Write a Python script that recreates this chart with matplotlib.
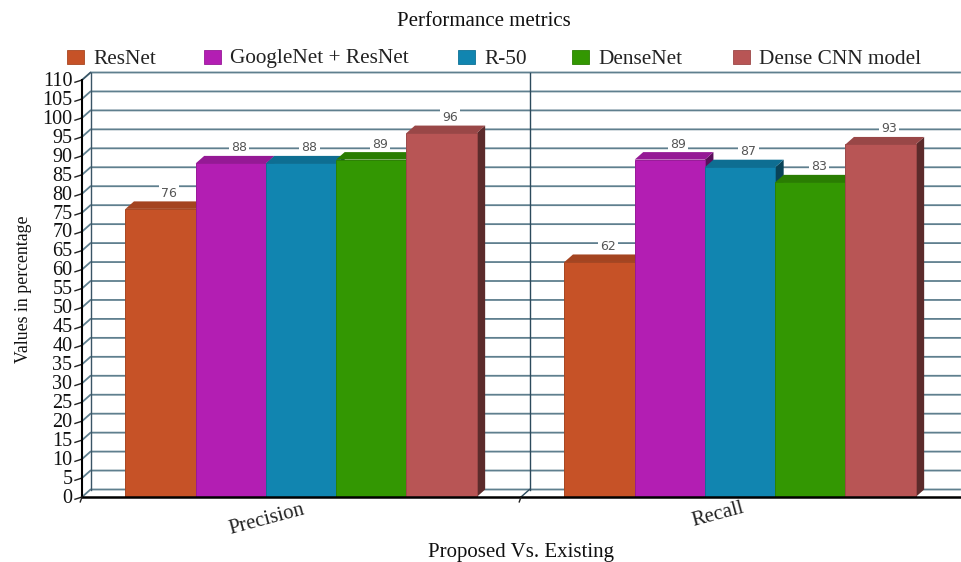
import numpy as np
import matplotlib
matplotlib.use('Agg')
import matplotlib.pyplot as plt
from matplotlib.patches import Polygon, Rectangle
from matplotlib.colors import to_rgb

plt.rcParams['font.family'] = ['Liberation Serif', 'DejaVu Serif']

# data
categories = ['Precision', 'Recall']
models = ['ResNet', 'GoogleNet + ResNet', 'R-50', 'DenseNet', 'Dense CNN model']
precision = [76, 88, 88, 89, 96]
recall = [62, 89, 87, 83, 93]
colors = ['#C65227', '#B31EB3', '#1185B0', '#339702', '#B85555']
yticks = list(range(0, 115, 5))

W, H = 961, 562
fig = plt.figure(figsize=(W / 100, H / 100), dpi=100)

# axes box in pixels: left 82, right 960, bottom 497, top 80
ax = fig.add_axes([82 / W, (H - 497) / H, 878 / W, 417 / H])
ax.set_xlim(0, 2)
ax.set_ylim(0, 110)
ax.axis('off')

# depth of the 3d effect, in data units
dx = 8.5 / 439
dy = 7.5 / (417 / 110)
bar_w = 0.16
grid_col = '#5f7f8e'


def shade(col, k):
    return tuple(c * k for c in to_rgb(col))


# back wall grid
for v in yticks:
    ax.plot([0, dx, 2], [v, v + dy, v + dy], color=grid_col, lw=1.3, clip_on=False, zorder=1)
    # tick marks on the y axis
    ax.plot([-0.016, 0], [v - 0.6, v], color='#222222', lw=1, clip_on=False, zorder=2)
ax.plot([dx, dx], [0 + dy, 110 + dy], color='#3a5566', lw=1, clip_on=False, zorder=1)
ax.plot([1 + dx, 1 + dx], [0 + dy, 110 + dy], color='#2c4a5c', lw=1, clip_on=False, zorder=1)
ax.plot([1, 1 + dx], [0, dy], color='#2c4a5c', lw=1, clip_on=False, zorder=1)
ax.plot([0, dx], [110, 110 + dy], color='#3a5566', lw=1, clip_on=False, zorder=1)

# 3d bars, drawn left to right so each one hides the side of the previous
z = 3
for c, vals in enumerate([precision, recall]):
    start = c + 0.099
    for i, v in enumerate(vals):
        x0 = start + i * bar_w
        x1 = x0 + bar_w
        col = colors[i]
        side = Polygon([(x1, 0), (x1 + dx, dy), (x1 + dx, v + dy), (x1, v)],
                       facecolor=shade(col, 0.5), edgecolor='none', zorder=z, clip_on=False)
        top = Polygon([(x0, v), (x0 + dx, v + dy), (x1 + dx, v + dy), (x1, v)],
                      facecolor=shade(col, 0.83), edgecolor='none', zorder=z, clip_on=False)
        ax.add_patch(side)
        ax.add_patch(top)
        ax.bar(x0, v, width=bar_w, align='edge', color=col, edgecolor=shade(col, 0.85),
               linewidth=0.7, zorder=z + 0.5)
        # value label sits above the top face, white box knocks out the grid line
        ax.annotate(str(v), (x0 + bar_w / 2, v), xytext=(8.5 * 0.72, 15.5 * 0.72),
                    textcoords='offset points', ha='center', va='center',
                    fontsize=9, color='#555555', family='DejaVu Sans', zorder=2.5,
                    bbox=dict(facecolor='white', edgecolor='none', pad=1.5))
        z += 1

# front axes
ax.plot([0, 2], [0, 0], color='black', lw=1.8, clip_on=False, zorder=40)
ax.plot([0, 0], [0, 110], color='black', lw=1.5, clip_on=False, zorder=40)
for xt in [0, 1]:
    ax.plot([xt, xt - 0.004], [0, -1.3], color='#222222', lw=1, clip_on=False, zorder=40)

# y tick labels
for v in yticks:
    ax.text(-0.022, v - 0.35, str(v), ha='right', va='center', fontsize=14.5, color='#111111', clip_on=False)

# category labels, tilted
ax.text(0.42, -6, categories[0], ha='center', va='center', rotation=15, fontsize=15,
        color='#222222', clip_on=False)
ax.text(1.449, -4.6, categories[1], ha='center', va='center', rotation=15, fontsize=15,
        color='#222222', clip_on=False)

# titles
fig.text(484 / W, 1 - 21 / H, 'Performance metrics', ha='center', va='center', fontsize=15, color='#111111')
fig.text(521 / W, 1 - 553 / H, 'Proposed Vs. Existing', ha='center', va='center', fontsize=15, color='#111111')
fig.text(24 / W, 1 - 289 / H, 'Values in percentage', ha='center', va='center', rotation=90,
         fontsize=12.8, color='#111111')

# legend row
swatch_x = [67, 204, 458, 572, 733]
for sx, name, col in zip(swatch_x, models, colors):
    fig.add_artist(Rectangle((sx / W, 1 - 64 / H), 17 / W, 14 / H, transform=fig.transFigure,
                             facecolor=col, edgecolor=shade(col, 0.85), lw=0.6))
    fig.text((sx + 26) / W, 1 - 59 / H, name, ha='left', va='center', fontsize=15.3, color='#222222')

fig.savefig('out.png', dpi=100)
